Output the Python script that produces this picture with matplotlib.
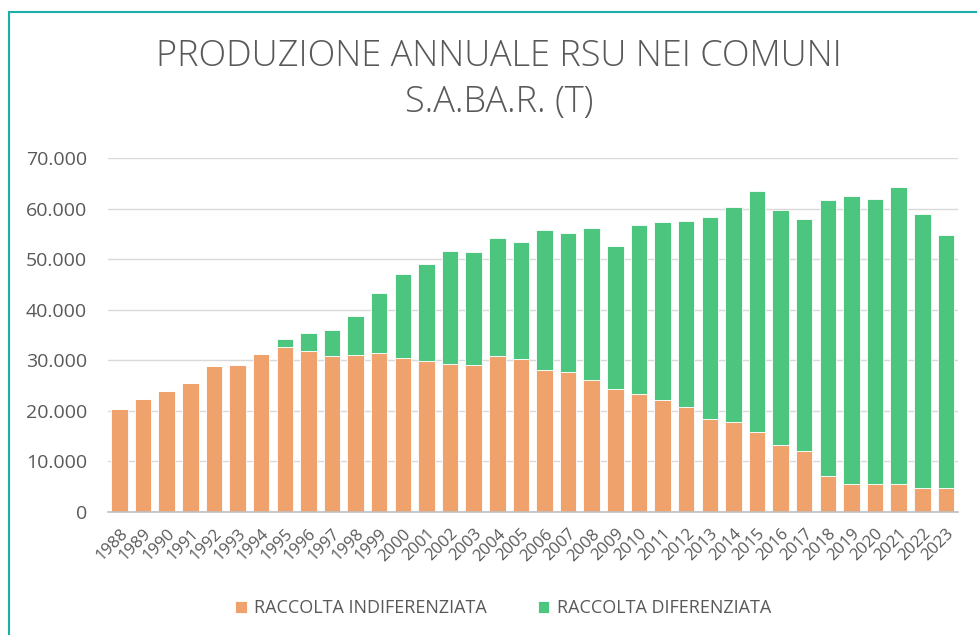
import matplotlib
matplotlib.use("Agg")
import matplotlib.pyplot as plt
from matplotlib.patches import Rectangle
from matplotlib.ticker import FuncFormatter

# Data (tonnes)
years = list(range(1988, 2024))
indifferenziata = [20300, 22300, 23900, 25500, 28900, 29100, 31200, 32600, 31900, 30900,
                   31100, 31400, 30500, 29800, 29300, 29100, 30900, 30200, 28100, 27700,
                   26200, 24300, 23400, 22200, 20800, 18400, 17700, 15900, 13300, 12100,
                   7200, 5500, 5500, 5500, 4800, 4800]
totale = [20300, 22300, 23900, 25500, 28900, 29100, 31200, 34200, 35400, 35900,
          38700, 43400, 47000, 49100, 51700, 51400, 54200, 53300, 55700, 55200,
          56100, 52600, 56800, 57300, 57500, 58300, 60400, 63400, 59700, 58000,
          61600, 62500, 61900, 64200, 58900, 54700]
differenziata = [t - i for t, i in zip(totale, indifferenziata)]

ORANGE = '#F0A26C'
GREEN = '#4CC67F'
GREY = '#595959'

plt.rcParams['font.family'] = ['Open Sans', 'DejaVu Sans']

fig = plt.figure(figsize=(9.77, 6.35), dpi=100)
W, H = 977, 635

# teal frame (cropped on the right and bottom like the reference)
fig.patches.append(Rectangle((9 / W, -0.1), 1.2, (H - 12) / H + 0.1,
                             transform=fig.transFigure, fill=False,
                             edgecolor='#1AAFA8', linewidth=1.5))

ax = fig.add_axes([107.7 / W, 123 / H, 850 / W, 354 / H])
x = list(range(len(years)))
ax.bar(x, indifferenziata, width=0.7, color=ORANGE, edgecolor='white', linewidth=0.6,
       label='RACCOLTA INDIFERENZIATA', zorder=2)
ax.bar(x, differenziata, width=0.7, bottom=indifferenziata, color=GREEN,
       edgecolor='white', linewidth=0.6, label='RACCOLTA DIFERENZIATA', zorder=2)

ax.set_xlim(-0.5, len(years) - 0.5)
ax.set_ylim(0, 70000)
ax.set_yticks(range(0, 70001, 10000))
ax.yaxis.set_major_formatter(FuncFormatter(lambda v, p: f"{int(v):,}".replace(',', '.')))
ax.grid(axis='y', color='#D9D9D9', linewidth=1, zorder=0)
for s in ['top', 'right', 'left']:
    ax.spines[s].set_visible(False)
ax.spines['bottom'].set_color('#BFBFBF')
ax.spines['bottom'].set_linewidth(1.2)
ax.tick_params(axis='both', length=0, colors=GREY)
ax.tick_params(axis='y', labelsize=14, pad=15)
ax.tick_params(axis='x', labelsize=12, pad=10)
ax.set_xticks(x)
ax.set_xticklabels([str(y) for y in years], rotation=45, ha='right',
                   rotation_mode='anchor')

fig.text(499 / W, 1 - 57 / H, 'PRODUZIONE ANNUALE RSU NEI COMUNI',
         ha='center', va='center', fontsize=26, color=GREY, fontweight='light')
fig.text(499 / W, 1 - 103 / H, 'S.A.BA.R. (T)',
         ha='center', va='center', fontsize=26, color=GREY, fontweight='light')

fig.legend(loc='center', bbox_to_anchor=(503 / W, 1 - 608 / H), ncol=2, frameon=False,
           fontsize=13, labelcolor=GREY, handlelength=0.66, handleheight=0.66,
           handletextpad=0.4, columnspacing=2.8)

fig.savefig('out.png', dpi=100, facecolor='white')
